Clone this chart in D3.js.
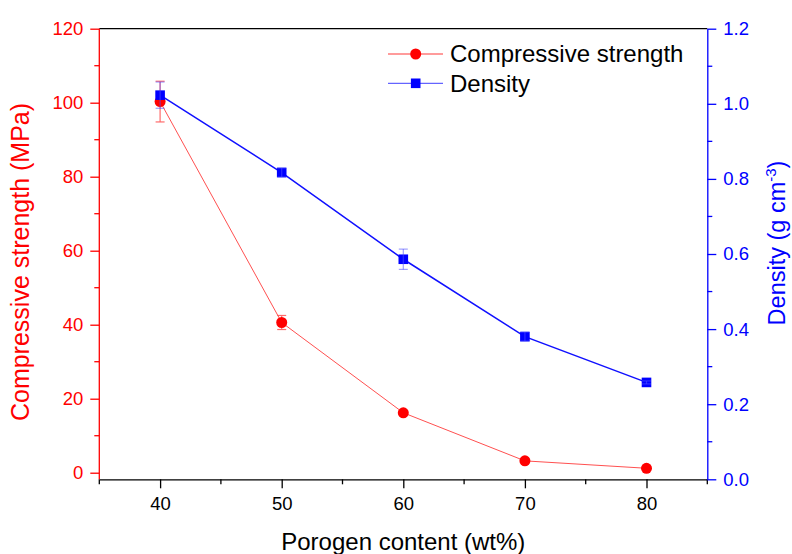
<!DOCTYPE html>
<html>
<head>
<meta charset="utf-8">
<script src="https://cdn.jsdelivr.net/npm/d3@7"></script>
<style>
  html, body { margin: 0; padding: 0; background: #fff; }
  svg { display: block; font-family: "Liberation Sans", Arial, sans-serif; }
</style>
</head>
<body>
<svg id="chart" width="792" height="554"></svg>
<script>
// Porogen content (wt%) on the x axis
const porogen = [40, 50, 60, 70, 80];
// Compressive strength (MPa) with standard deviation
const strength = [100.3, 40.6, 16.2, 3.2, 1.2];
const strengthErr = [5.5, 1.9, 0.5, 0.3, 0.2];
// Density (g cm^-3) with standard deviation
const density = [1.023, 0.817, 0.586, 0.380, 0.258];
const densityErr = [0.035, 0.012, 0.027, 0.012, 0.004];
// Tick values
const xTicks = [40, 50, 60, 70, 80];
const leftTicks = [0, 20, 40, 60, 80, 100, 120];
const rightTicks = [0, 0.2, 0.4, 0.6, 0.8, 1.0, 1.2];

const RED = "#ff0000", BLUE = "#0000ff";
const svg = d3.select("#chart");

const L = 99.3, R = 707.3, T = 28.7, B = 479.3;

const x = d3.scaleLinear().domain([35, 85]).range([L, R]);
const yL = d3.scaleLinear().domain([-1.78, 120]).range([B, T]);
const yR = d3.scaleLinear().domain([0, 1.2]).range([B, T]);

// top frame line
svg.append("line").attr("x1", L).attr("x2", R).attr("y1", T).attr("y2", T)
  .attr("stroke", "#000").attr("stroke-width", 1.2);

// bottom axis
const gx = svg.append("g").attr("transform", `translate(0,${B})`)
  .call(d3.axisBottom(x).tickValues(xTicks).tickSize(9).tickSizeOuter(0).tickPadding(9));
gx.selectAll("text").attr("font-size", 18.5).attr("fill", "#000").attr("font-family", "Liberation Sans, Arial, sans-serif");
gx.selectAll("line,path").attr("stroke", "#000").attr("stroke-width", 1.3);
gx.append("g").selectAll("line").data(d3.range(35, 86, 10)).join("line")
  .attr("x1", d => x(d)).attr("x2", d => x(d)).attr("y1", 0).attr("y2", 5)
  .attr("stroke", "#000").attr("stroke-width", 1.3);

// left axis
const gl = svg.append("g").attr("transform", `translate(${L},0)`)
  .call(d3.axisLeft(yL).tickValues(leftTicks).tickSize(9).tickSizeOuter(0).tickPadding(7));
gl.select(".domain").attr("d", `M0,${T}V${B}`);
gl.selectAll("text").attr("font-size", 18.5).attr("fill", RED).attr("font-family", "Liberation Sans, Arial, sans-serif");
gl.selectAll("line,path").attr("stroke", RED).attr("stroke-width", 1.3);
gl.append("g").selectAll("line").data(d3.range(10, 120, 20)).join("line")
  .attr("x1", 0).attr("x2", -5).attr("y1", d => yL(d)).attr("y2", d => yL(d))
  .attr("stroke", RED).attr("stroke-width", 1.3);

// right axis
const gr = svg.append("g").attr("transform", `translate(${R},0)`)
  .call(d3.axisRight(yR).tickValues(rightTicks).tickSize(9).tickSizeOuter(0).tickPadding(7)
    .tickFormat(d3.format(".1f")));
gr.selectAll("text").attr("font-size", 18.5).attr("fill", BLUE).attr("font-family", "Liberation Sans, Arial, sans-serif");
gr.selectAll("line,path").attr("stroke", BLUE).attr("stroke-width", 1.3);
gr.append("g").selectAll("line").data(d3.range(0.1, 1.2, 0.2)).join("line")
  .attr("x1", 0).attr("x2", 5).attr("y1", d => yR(d)).attr("y2", d => yR(d))
  .attr("stroke", BLUE).attr("stroke-width", 1.3);

// axis titles
svg.append("text").attr("x", (L + R) / 2).attr("y", 550)
  .attr("text-anchor", "middle").attr("font-size", 24).attr("fill", "#000")
  .text("Porogen content (wt%)");
svg.append("text").attr("transform", "translate(29,262) rotate(-90)")
  .attr("text-anchor", "middle").attr("font-size", 25).attr("fill", RED)
  .text("Compressive strength (MPa)");
const rt = svg.append("text").attr("transform", "translate(785,243) rotate(-90)")
  .attr("text-anchor", "middle").attr("font-size", 23.5).attr("fill", BLUE);
rt.append("tspan").text("Density (g cm");
rt.append("tspan").attr("font-size", 15).attr("dy", -9).text("-3");
rt.append("tspan").attr("dy", 9).text(")");

// error bars helper
function errorBars(g, ys, vals, errs, color) {
  const cap = 4.5;
  porogen.forEach((p, i) => {
    const cx = x(p), y1 = ys(vals[i] + errs[i]), y2 = ys(vals[i] - errs[i]);
    g.append("line").attr("x1", cx).attr("x2", cx).attr("y1", y1).attr("y2", y2)
      .attr("stroke", color).attr("stroke-width", 1.2);
    [y1, y2].forEach(yy => g.append("line").attr("x1", cx - cap).attr("x2", cx + cap)
      .attr("y1", yy).attr("y2", yy).attr("stroke", color).attr("stroke-width", 1.2));
  });
}

// compressive strength series
const gs = svg.append("g");
errorBars(gs, yL, strength, strengthErr, "#ff6b6b");
gs.append("path").datum(porogen.map((p, i) => [p, strength[i]]))
  .attr("fill", "none").attr("stroke", "#ff5050").attr("stroke-width", 1)
  .attr("d", d3.line().x(d => x(d[0])).y(d => yL(d[1])));
gs.selectAll("circle").data(porogen).join("circle")
  .attr("cx", d => x(d)).attr("cy", (d, i) => yL(strength[i])).attr("r", 5.5)
  .attr("fill", RED);

// density series
const gd = svg.append("g");
gd.append("path").datum(porogen.map((p, i) => [p, density[i]]))
  .attr("fill", "none").attr("stroke", "#1010ff").attr("stroke-width", 1.5)
  .attr("d", d3.line().x(d => x(d[0])).y(d => yR(d[1])));
gd.selectAll("rect").data(porogen).join("rect")
  .attr("x", d => x(d) - 4.8).attr("y", (d, i) => yR(density[i]) - 4.8)
  .attr("width", 9.6).attr("height", 9.6).attr("fill", BLUE);
errorBars(gd, yR, density, densityErr, "rgba(80,80,255,0.55)");

// legend
const legend = [
  { name: "Compressive strength", line: "#ff7a7a", mark: "circle", color: RED, y: 54 },
  { name: "Density", line: "#6464ff", mark: "rect", color: BLUE, y: 83.3 }
];
const lg = svg.append("g");
legend.forEach(l => {
  lg.append("line").attr("x1", 388).attr("x2", 443).attr("y1", l.y).attr("y2", l.y)
    .attr("stroke", l.line).attr("stroke-width", 1.3);
  if (l.mark === "circle") {
    lg.append("circle").attr("cx", 415.7).attr("cy", l.y).attr("r", 5.5).attr("fill", l.color);
  } else {
    lg.append("rect").attr("x", 415.7 - 4.8).attr("y", l.y - 4.8).attr("width", 9.6).attr("height", 9.6).attr("fill", l.color);
  }
  lg.append("text").attr("x", 450).attr("y", l.y + 8.3).attr("font-size", 24).attr("fill", "#000").text(l.name);
});
</script>
</body>
</html>
